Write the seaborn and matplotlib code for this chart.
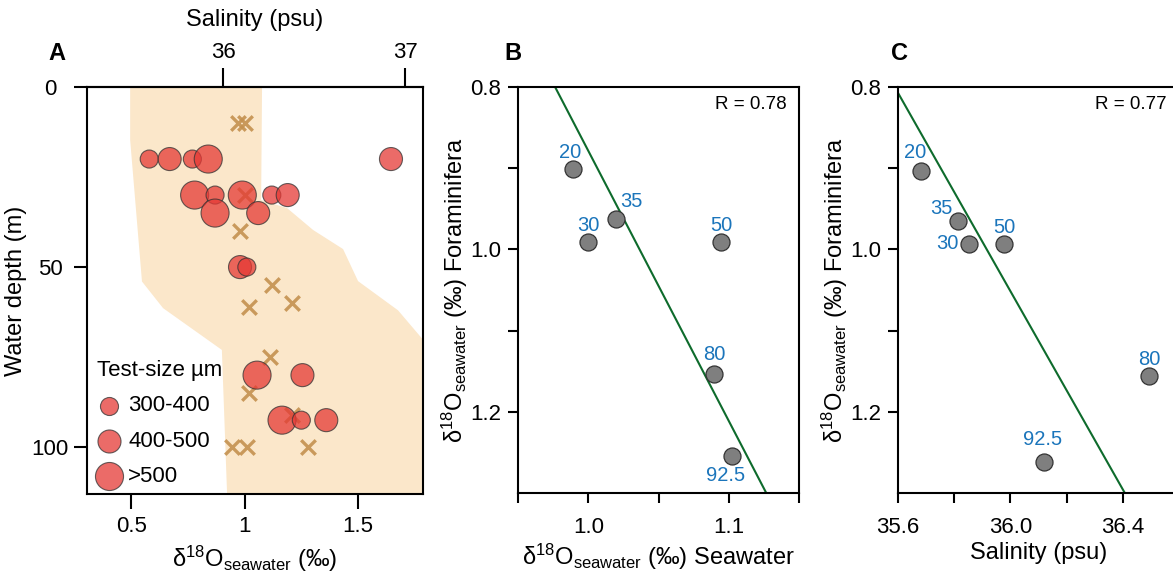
import numpy as np
import pandas as pd
import matplotlib
matplotlib.use("Agg")
import matplotlib.pyplot as plt
import seaborn as sns

##################################################
#-----------------Data----------------------------
##################################################

# Panel A: foraminifera d18O-seawater vs depth, by test size
circ_d18o = [0.58, 0.67, 0.77, 0.84, 1.645,
             0.78, 0.87, 0.99, 1.12, 1.19,
             0.87, 1.06,
             0.98, 1.01,
             1.055, 1.255,
             1.165, 1.25, 1.36]
circ_depth = [20, 20, 20, 20, 20,
              30, 30, 30, 30, 30,
              35, 35,
              50, 50,
              80, 80,
              92.5, 92.5, 92.5]
circ_size = ["300-400", "400-500", "300-400", ">500", "400-500",
             ">500", "300-400", ">500", "300-400", "400-500",
             ">500", "400-500",
             "400-500", "300-400",
             ">500", "400-500",
             ">500", "300-400", "400-500"]

# Panel A: water samples (crosses)
cross_d18o = [0.97, 1.00, 1.00, 0.98, 1.12, 1.21, 1.02, 1.11, 1.02, 1.21, 0.945, 1.01, 1.28]
cross_depth = [10, 10, 30, 40, 55, 60, 61, 75, 85, 91, 100, 100, 100]

# Panel A: shaded envelope (left / right boundaries)
env_left_depth = [0, 14.7, 54, 61.4, 73, 113]
env_left_x = [0.496, 0.496, 0.548, 0.641, 0.90, 0.923]
env_right_depth = [0, 31.4, 33.6, 39.7, 45, 53.9, 62, 69.7, 75, 113]
env_right_x = [1.077, 1.073, 1.187, 1.302, 1.434, 1.50, 1.676, 1.78, 1.85, 1.85]

# Panels B and C
depth_labels = ["20", "35", "30", "50", "80", "92.5"]
foram_d18o = [0.901, 0.962, 0.991, 0.991, 1.153, 1.255]
sw_d18o = [0.989, 1.0195, 1.000, 1.0948, 1.0898, 1.102]
foram_d18o_c = [0.903, 0.965, 0.993, 0.993, 1.156, 1.262]
salinity = [35.682, 35.814, 35.853, 35.977, 36.493, 36.120]

size_map = {"300-400": 169, "400-500": 275, ">500": 408}

# label offsets (points) for panels B and C
offs_b = [(-2, 12), (11, 12), (0, 12), (0, 12), (0, 14), (-4, -14)]
offs_c = [(-4, 13), (-12, 9), (-16, 0), (0, 12), (0, 12), (-1, 16)]

##################################################
#-----------------Style---------------------------
##################################################

sns.set_style("ticks")
plt.rcParams["font.family"] = ["Liberation Sans", "DejaVu Sans"]
plt.rcParams["mathtext.fontset"] = "custom"
plt.rcParams["mathtext.rm"] = "Liberation Sans"
plt.rcParams["mathtext.it"] = "Liberation Sans:italic"
plt.rcParams["axes.linewidth"] = 1.5
plt.rcParams["axes.edgecolor"] = "black"
plt.rcParams["axes.labelcolor"] = "black"
plt.rcParams["text.color"] = "black"
plt.rcParams["xtick.color"] = "black"
plt.rcParams["ytick.color"] = "black"
plt.rcParams["xtick.major.width"] = 1.5
plt.rcParams["ytick.major.width"] = 1.5

TICK_FS = 16
LAB_FS = 17
red = "#E53935"
tan = "#C4914F"
blue = "#1B75BB"
green = "#0E6B2C"
d18o_lab = "δ$^{18}$O$_{\\mathrm{seawater}}$ (‰)"

fig = plt.figure(figsize=(11.73, 5.74), dpi=100)
axA = fig.add_axes([0.0742, 0.1394, 0.2864, 0.709])
axB = fig.add_axes([0.4416, 0.1411, 0.2396, 0.7073])
axC = fig.add_axes([0.7656, 0.1411, 0.2396, 0.7073])

##################################################
#-----------------Panel A-------------------------
##################################################

env_x = env_right_x + env_left_x[::-1]
env_y = env_right_depth + env_left_depth[::-1]
axA.fill(env_x, env_y, color="#FBE7CA", lw=0, zorder=0)

df_x = pd.DataFrame({"d18o": cross_d18o, "depth": cross_depth})
sns.scatterplot(data=df_x, x="d18o", y="depth", marker="x", s=110, color=tan,
                linewidth=2.4, alpha=0.9, ax=axA, zorder=2, legend=False)

df_c = pd.DataFrame({"d18o": circ_d18o, "depth": circ_depth, "size": circ_size})
sns.scatterplot(data=df_c, x="d18o", y="depth", size="size", sizes=size_map,
                color=red, alpha=0.75, edgecolor="#333333", linewidth=0.8,
                ax=axA, zorder=3, legend=False)

axA.set_xlim(0.306, 1.786)
axA.set_ylim(113, 0)
axA.set_xticks([0.5, 1, 1.5])
axA.set_xticklabels(["0.5", "1", "1.5"])
axA.set_yticks([0, 50, 100])
axA.tick_params(axis="x", labelsize=TICK_FS, length=11, pad=5)
axA.tick_params(axis="y", labelsize=TICK_FS, length=9.5, pad=17)
for t in axA.get_yticklabels():
    t.set_horizontalalignment("center")
axA.set_xlabel(d18o_lab, fontsize=LAB_FS, labelpad=5)
axA.set_ylabel("Water depth (m)", fontsize=LAB_FS, labelpad=3)

# top salinity axis
sal_top = axA.secondary_xaxis("top", functions=(lambda d: 36 + (d - 0.905) / 0.802,
                                                 lambda s: 0.905 + (s - 36) * 0.802))
sal_top.set_xticks([36, 37])
sal_top.tick_params(labelsize=TICK_FS, length=14, width=1.5, pad=3)
sal_top.set_xlabel("Salinity (psu)", fontsize=LAB_FS, labelpad=12)

handles = [axA.scatter([], [], s=size_map[k], color=red, alpha=0.75,
                       edgecolor="#333333", linewidth=0.8) for k in size_map]
leg = axA.legend(handles, list(size_map.keys()), title="Test-size µm",
                 loc="lower left", bbox_to_anchor=(0.0, -0.008),
                 frameon=False, fontsize=TICK_FS,
                 title_fontsize=TICK_FS, borderaxespad=0.2, handletextpad=0.3,
                 handlelength=1.1, labelspacing=0.65, borderpad=0.25)
leg._legend_box.align = "left"

##################################################
#-----------------Panels B and C------------------
##################################################

def panel(ax, xvals, yvals, offs, rtext):
    df = pd.DataFrame({"x": xvals, "y": yvals})
    # regression of x on y (drawn as in the original figure)
    b, a = np.polyfit(yvals, xvals, 1)
    yy = np.array([0.78, 1.32])
    ax.plot(a + b * yy, yy, color=green, lw=1.5, zorder=2)
    sns.scatterplot(data=df, x="x", y="y", s=150, color="#7F7F7F",
                    edgecolor="#333333", linewidth=0.9, ax=ax, zorder=3,
                    legend=False)
    for lab, xv, yv, off in zip(depth_labels, xvals, yvals, offs):
        ax.annotate(lab, (xv, yv), xytext=off, textcoords="offset points",
                    ha="center", va="center", color=blue, fontsize=14.5)
    ax.text(0.955, 0.958, rtext, transform=ax.transAxes, ha="right",
            va="center", fontsize=13.5)
    ax.set_ylim(1.3, 0.8)
    ax.set_yticks([0.8, 0.9, 1.0, 1.1, 1.2])
    ax.set_yticklabels(["0.8", "", "1.0", "", "1.2"])
    ax.tick_params(axis="y", labelsize=TICK_FS, length=7, pad=5)
    ax.tick_params(axis="x", labelsize=TICK_FS, length=7, pad=10)
    ax.set_ylabel(d18o_lab + " Foraminifera", fontsize=LAB_FS, labelpad=0)


panel(axB, sw_d18o, foram_d18o, offs_b, "R = 0.78")
axB.set_xlim(0.95, 1.15)
axB.set_xticks([0.95, 1.0, 1.05, 1.1, 1.15])
axB.set_xticklabels(["", "1.0", "", "1.1", ""])
axB.set_xlabel(d18o_lab + " Seawater", fontsize=LAB_FS, labelpad=3)

panel(axC, salinity, foram_d18o_c, offs_c, "R = 0.77")
axC.set_xlim(35.6, 36.6)
axC.set_xticks([35.6, 35.8, 36.0, 36.2, 36.4])
axC.set_xticklabels(["35.6", "", "36.0", "", "36.4"])
axC.set_xlabel("Salinity (psu)", fontsize=LAB_FS, labelpad=3)

# panel letters
for lab, xp in zip(["A", "B", "C"], [57, 513, 900]):
    fig.text(xp / 1173, 1 - 53 / 574, lab, ha="center", va="center",
             fontsize=17, fontweight="bold")

fig.savefig("out.png", dpi=100)
